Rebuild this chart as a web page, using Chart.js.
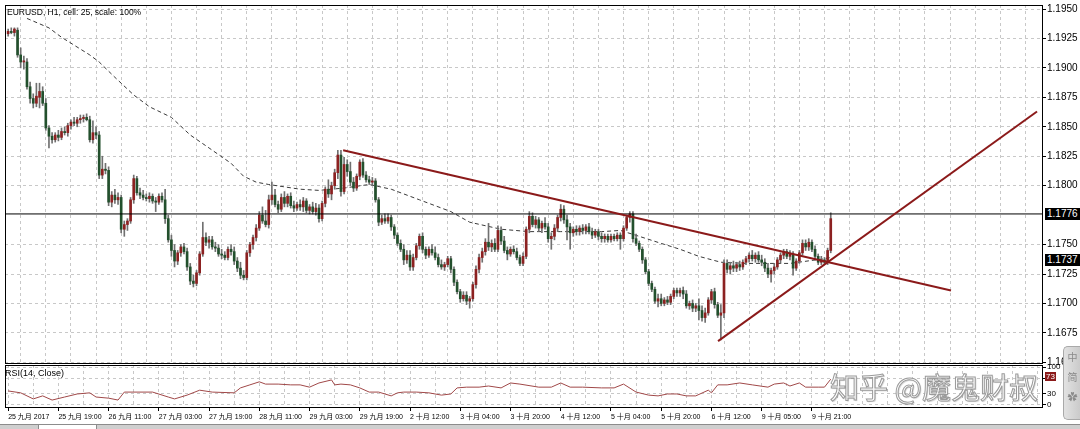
<!DOCTYPE html>
<html>
<head>
<meta charset="utf-8">
<script src="https://cdn.jsdelivr.net/npm/chart.js@4.4.1/dist/chart.umd.min.js"></script>
<style>
  html, body { margin: 0; padding: 0; background: #fff; }
  #wrap { position: relative; width: 1080px; height: 429px; overflow: hidden;
          font-family: "Liberation Sans", Arial, "Noto Sans CJK SC", sans-serif; }
  canvas { position: absolute; left: 0; }
  #main { top: 0; }
  #rsi { top: 363px; }
  #title { position: absolute; left: 7px; top: 7px; font-size: 8.5px; color: #000; white-space: nowrap; }
  #rsiTitle { position: absolute; left: 5px; top: 368px; font-size: 9px; color: #000; white-space: nowrap; }
  .mark { position: absolute; left: 1045px; height: 12px; line-height: 12px; padding: 0 2px;
          font-size: 10px; color: #fff; background: #000; }
  .rsimark { background: #8b1a1a; font-size: 8px; height: 9px; line-height: 9px; padding: 0 1px; }
  #water { position: absolute; left: 830px; top: 366px; font-size: 29px; line-height: 40px; white-space: nowrap;
           font-family: "Noto Sans CJK SC", sans-serif; color: rgba(255,255,255,0.9);
           -webkit-text-stroke: 1px #9a9a9a; text-shadow: 1px 1px 1px rgba(0,0,0,0.2); }
  #ime { position: absolute; left: 1063px; top: 346px; width: 17px; height: 72px; border-radius: 5px 0 0 5px;
         background: linear-gradient(90deg, #e2e2e2, #c9c9c9); border: 1px solid #a9a9a9; border-right: none;
         font-family: "Noto Sans CJK SC", sans-serif; font-size: 10px; color: #8a8a8a; text-align: center; }
  #ime div { height: 20px; line-height: 20px; }
  #strip { position: absolute; left: 0; top: 424px; width: 1080px; height: 5px; background: #cfcfcf; border-top: 1px solid #8c8c8c; }
  #tab { position: absolute; left: 38px; top: 424px; width: 57px; height: 5px; background: #fff; border: 1px solid #8c8c8c; border-bottom: none; }
</style>
</head>
<body>
<div id="wrap">
  <canvas id="main" width="1080" height="366"></canvas>
  <canvas id="rsi" width="1080" height="62"></canvas>
  <div id="title">EURUSD, H1, cell: 25, scale: 100%</div>
  <div id="rsiTitle">RSI(14, Close)</div>
  <div id="water">知乎 @魔鬼财叔</div>
  <div id="ime"><div>中</div><div>简</div><div>✿</div></div>
  <div id="strip"></div>
  <div id="tab"></div>
</div>
<script>
// EURUSD H1 candles: [open, high, low, close], one per hour from 25 Sep 2017
const ohlc = [
  [1.1929,1.1933,1.1927,1.1931],[1.1931,1.1934,1.1929,1.1930],[1.1930,1.1934,1.1927,1.1933],[1.1932,1.1934,1.1909,1.1911],
  [1.1911,1.1917,1.1900,1.1905],[1.1905,1.1910,1.1899,1.1906],[1.1905,1.1908,1.1882,1.1884],[1.1884,1.1888,1.1870,1.1874],
  [1.1874,1.1878,1.1866,1.1870],[1.1870,1.1887,1.1867,1.1876],[1.1875,1.1887,1.1866,1.1880],[1.1880,1.1884,1.1868,1.1870],
  [1.1870,1.1874,1.1847,1.1849],[1.1849,1.1851,1.1832,1.1842],[1.1842,1.1845,1.1836,1.1839],[1.1839,1.1845,1.1837,1.1843],
  [1.1843,1.1847,1.1838,1.1841],[1.1841,1.1849,1.1839,1.1846],[1.1846,1.1850,1.1843,1.1845],[1.1845,1.1853,1.1842,1.1851],
  [1.1851,1.1856,1.1848,1.1854],[1.1854,1.1858,1.1851,1.1853],[1.1853,1.1858,1.1850,1.1856],[1.1856,1.1860,1.1853,1.1857],
  [1.1857,1.1860,1.1854,1.1858],[1.1858,1.1861,1.1855,1.1856],[1.1856,1.1859,1.1837,1.1839],[1.1839,1.1855,1.1836,1.1845],
  [1.1845,1.1850,1.1840,1.1843],[1.1843,1.1846,1.1806,1.1809],[1.1809,1.1825,1.1806,1.1814],[1.1814,1.1819,1.1810,1.1813],
  [1.1813,1.1816,1.1783,1.1786],[1.1786,1.1795,1.1782,1.1792],[1.1792,1.1797,1.1785,1.1788],[1.1788,1.1794,1.1784,1.1790],
  [1.1790,1.1792,1.1760,1.1763],[1.1763,1.1770,1.1757,1.1767],[1.1767,1.1772,1.1762,1.1770],[1.1770,1.1790,1.1768,1.1788],
  [1.1788,1.1809,1.1785,1.1806],[1.1806,1.1808,1.1792,1.1794],[1.1794,1.1798,1.1789,1.1792],[1.1792,1.1796,1.1788,1.1790],
  [1.1790,1.1793,1.1787,1.1789],[1.1789,1.1794,1.1786,1.1791],[1.1791,1.1793,1.1785,1.1787],[1.1787,1.1790,1.1778,1.1786],
  [1.1786,1.1793,1.1784,1.1791],[1.1791,1.1794,1.1786,1.1788],[1.1788,1.1797,1.1768,1.1772],[1.1772,1.1775,1.1752,1.1754],
  [1.1754,1.1758,1.1740,1.1745],[1.1745,1.1750,1.1731,1.1736],[1.1736,1.1745,1.1733,1.1743],[1.1743,1.1750,1.1740,1.1748],
  [1.1748,1.1751,1.1742,1.1744],[1.1744,1.1747,1.1728,1.1731],[1.1731,1.1734,1.1716,1.1719],[1.1719,1.1724,1.1714,1.1717],
  [1.1717,1.1728,1.1715,1.1726],[1.1726,1.1744,1.1724,1.1742],[1.1742,1.1769,1.1740,1.1756],[1.1756,1.1760,1.1749,1.1752],
  [1.1752,1.1757,1.1747,1.1754],[1.1754,1.1757,1.1746,1.1748],[1.1748,1.1752,1.1744,1.1747],[1.1747,1.1750,1.1740,1.1742],
  [1.1742,1.1746,1.1738,1.1741],[1.1741,1.1744,1.1737,1.1739],[1.1739,1.1748,1.1737,1.1746],[1.1746,1.1750,1.1741,1.1744],
  [1.1744,1.1748,1.1733,1.1736],[1.1736,1.1739,1.1727,1.1730],[1.1730,1.1735,1.1721,1.1724],[1.1724,1.1728,1.1720,1.1722],
  [1.1722,1.1745,1.1720,1.1743],[1.1743,1.1752,1.1740,1.1750],[1.1750,1.1758,1.1746,1.1756],[1.1756,1.1767,1.1753,1.1764],
  [1.1764,1.1778,1.1762,1.1775],[1.1775,1.1782,1.1768,1.1770],[1.1770,1.1779,1.1765,1.1767],[1.1767,1.1792,1.1764,1.1788],
  [1.1788,1.1803,1.1784,1.1792],[1.1792,1.1797,1.1782,1.1784],[1.1784,1.1787,1.1777,1.1780],[1.1780,1.1793,1.1778,1.1790],
  [1.1790,1.1795,1.1782,1.1785],[1.1785,1.1793,1.1782,1.1791],[1.1791,1.1794,1.1781,1.1783],[1.1783,1.1787,1.1778,1.1781],
  [1.1781,1.1786,1.1779,1.1784],[1.1784,1.1788,1.1779,1.1782],[1.1782,1.1790,1.1778,1.1787],[1.1787,1.1789,1.1777,1.1779],
  [1.1779,1.1784,1.1776,1.1782],[1.1782,1.1786,1.1776,1.1778],[1.1778,1.1785,1.1775,1.1781],[1.1781,1.1784,1.1769,1.1772],
  [1.1772,1.1787,1.1770,1.1785],[1.1785,1.1799,1.1782,1.1797],[1.1797,1.1805,1.1790,1.1793],[1.1793,1.1803,1.1788,1.1800],
  [1.1800,1.1814,1.1797,1.1811],[1.1811,1.1830,1.1806,1.1826],[1.1826,1.1830,1.1791,1.1795],[1.1795,1.1824,1.1793,1.1818],
  [1.1818,1.1822,1.1808,1.1812],[1.1812,1.1820,1.1800,1.1803],[1.1803,1.1807,1.1795,1.1798],[1.1798,1.1810,1.1796,1.1808],
  [1.1808,1.1822,1.1805,1.1820],[1.1820,1.1823,1.1807,1.1809],[1.1809,1.1812,1.1803,1.1805],[1.1805,1.1808,1.1801,1.1803],
  [1.1803,1.1807,1.1800,1.1804],[1.1804,1.1806,1.1786,1.1788],[1.1788,1.1790,1.1766,1.1769],[1.1769,1.1775,1.1767,1.1772],
  [1.1772,1.1776,1.1768,1.1770],[1.1770,1.1776,1.1768,1.1773],[1.1773,1.1775,1.1762,1.1765],[1.1765,1.1767,1.1755,1.1758],
  [1.1758,1.1760,1.1749,1.1751],[1.1751,1.1754,1.1744,1.1746],[1.1746,1.1750,1.1733,1.1737],[1.1737,1.1745,1.1734,1.1741],
  [1.1741,1.1745,1.1728,1.1731],[1.1731,1.1742,1.1728,1.1739],[1.1739,1.1751,1.1737,1.1749],[1.1749,1.1759,1.1746,1.1757],
  [1.1757,1.1760,1.1743,1.1746],[1.1746,1.1748,1.1738,1.1741],[1.1741,1.1748,1.1739,1.1746],[1.1746,1.1750,1.1741,1.1743],
  [1.1743,1.1748,1.1737,1.1739],[1.1739,1.1742,1.1731,1.1733],[1.1733,1.1737,1.1729,1.1731],[1.1731,1.1735,1.1728,1.1733],
  [1.1733,1.1740,1.1731,1.1738],[1.1738,1.1740,1.1726,1.1729],[1.1729,1.1731,1.1715,1.1718],[1.1718,1.1720,1.1708,1.1710],
  [1.1710,1.1712,1.1701,1.1704],[1.1704,1.1710,1.1702,1.1707],[1.1707,1.1710,1.1699,1.1702],[1.1702,1.1706,1.1696,1.1704],
  [1.1704,1.1718,1.1702,1.1716],[1.1716,1.1732,1.1713,1.1729],[1.1729,1.1742,1.1726,1.1739],[1.1739,1.1747,1.1735,1.1744],
  [1.1744,1.1755,1.1741,1.1752],[1.1752,1.1768,1.1745,1.1748],[1.1748,1.1754,1.1744,1.1751],[1.1751,1.1755,1.1744,1.1746],
  [1.1746,1.1766,1.1744,1.1762],[1.1762,1.1765,1.1750,1.1753],[1.1753,1.1757,1.1743,1.1745],[1.1745,1.1748,1.1737,1.1742],
  [1.1742,1.1748,1.1740,1.1746],[1.1746,1.1749,1.1742,1.1744],[1.1744,1.1747,1.1737,1.1739],[1.1739,1.1741,1.1732,1.1734],
  [1.1734,1.1743,1.1732,1.1740],[1.1740,1.1765,1.1738,1.1763],[1.1763,1.1778,1.1760,1.1774],[1.1774,1.1777,1.1765,1.1767],
  [1.1767,1.1774,1.1764,1.1771],[1.1771,1.1773,1.1761,1.1764],[1.1764,1.1770,1.1760,1.1768],[1.1768,1.1773,1.1763,1.1765],
  [1.1765,1.1768,1.1752,1.1755],[1.1755,1.1760,1.1746,1.1757],[1.1757,1.1767,1.1754,1.1764],[1.1764,1.1775,1.1761,1.1773],
  [1.1773,1.1784,1.1770,1.1780],[1.1780,1.1783,1.1768,1.1771],[1.1771,1.1775,1.1754,1.1765],[1.1765,1.1768,1.1746,1.1760],
  [1.1760,1.1765,1.1757,1.1763],[1.1763,1.1766,1.1758,1.1761],[1.1761,1.1766,1.1758,1.1764],[1.1764,1.1767,1.1759,1.1762],
  [1.1762,1.1767,1.1759,1.1765],[1.1765,1.1768,1.1759,1.1761],[1.1761,1.1764,1.1755,1.1758],[1.1758,1.1763,1.1756,1.1761],
  [1.1761,1.1763,1.1754,1.1757],[1.1757,1.1760,1.1752,1.1755],[1.1755,1.1759,1.1752,1.1757],[1.1757,1.1759,1.1752,1.1754],
  [1.1754,1.1759,1.1752,1.1757],[1.1757,1.1759,1.1753,1.1755],[1.1755,1.1760,1.1753,1.1758],[1.1758,1.1760,1.1746,1.1755],
  [1.1755,1.1766,1.1753,1.1764],[1.1764,1.1775,1.1762,1.1773],[1.1773,1.1778,1.1769,1.1776],[1.1776,1.1778,1.1752,1.1755],
  [1.1755,1.1759,1.1749,1.1751],[1.1751,1.1753,1.1744,1.1746],[1.1746,1.1748,1.1734,1.1737],[1.1737,1.1739,1.1725,1.1727],
  [1.1727,1.1729,1.1715,1.1717],[1.1717,1.1719,1.1710,1.1712],[1.1712,1.1714,1.1700,1.1702],[1.1702,1.1708,1.1697,1.1704],
  [1.1704,1.1708,1.1698,1.1700],[1.1700,1.1705,1.1698,1.1703],[1.1703,1.1706,1.1699,1.1701],[1.1701,1.1708,1.1699,1.1706],
  [1.1706,1.1713,1.1704,1.1711],[1.1711,1.1713,1.1706,1.1709],[1.1709,1.1713,1.1706,1.1711],[1.1711,1.1714,1.1704,1.1708],
  [1.1708,1.1711,1.1696,1.1698],[1.1698,1.1702,1.1695,1.1700],[1.1700,1.1703,1.1693,1.1696],[1.1696,1.1700,1.1693,1.1698],
  [1.1698,1.1704,1.1686,1.1694],[1.1694,1.1698,1.1685,1.1688],[1.1688,1.1696,1.1684,1.1692],[1.1692,1.1705,1.1690,1.1703],
  [1.1703,1.1712,1.1700,1.1710],[1.1710,1.1713,1.1696,1.1699],[1.1699,1.1701,1.1688,1.1690],[1.1690,1.1699,1.1669,1.1692],
  [1.1692,1.1737,1.1688,1.1734],[1.1734,1.1737,1.1726,1.1729],[1.1729,1.1735,1.1725,1.1732],[1.1732,1.1736,1.1727,1.1730],
  [1.1730,1.1735,1.1727,1.1733],[1.1733,1.1736,1.1728,1.1731],[1.1731,1.1737,1.1729,1.1735],[1.1735,1.1740,1.1733,1.1738],
  [1.1738,1.1743,1.1735,1.1741],[1.1741,1.1745,1.1736,1.1738],[1.1738,1.1743,1.1735,1.1741],[1.1741,1.1744,1.1735,1.1737],
  [1.1737,1.1741,1.1732,1.1735],[1.1735,1.1738,1.1727,1.1730],[1.1730,1.1734,1.1722,1.1725],[1.1725,1.1730,1.1718,1.1728],
  [1.1728,1.1734,1.1725,1.1731],[1.1731,1.1739,1.1729,1.1737],[1.1737,1.1743,1.1734,1.1741],[1.1741,1.1746,1.1738,1.1744],
  [1.1744,1.1746,1.1738,1.1740],[1.1740,1.1745,1.1737,1.1742],[1.1742,1.1744,1.1724,1.1730],[1.1730,1.1738,1.1728,1.1736],
  [1.1736,1.1745,1.1734,1.1743],[1.1743,1.1754,1.1741,1.1751],[1.1751,1.1754,1.1745,1.1748],[1.1748,1.1755,1.1745,1.1752],
  [1.1752,1.1754,1.1744,1.1746],[1.1746,1.1749,1.1737,1.1740],[1.1740,1.1742,1.1733,1.1735],[1.1735,1.1740,1.1733,1.1737],
  [1.1737,1.1739,1.1733,1.1735],[1.1735,1.1747,1.1733,1.1745],[1.1745,1.1777,1.1743,1.1772]
];

// dashed moving average: [bar, price]
const maPoints = [
  [6,1.1942],[13,1.1934],[17,1.1926],[26,1.1911],[29,1.1905],[34,1.1892],[40,1.1877],[45,1.1867],
  [52,1.1858],[58,1.1843],[64,1.1832],[71,1.1819],[75,1.1808],[79,1.1803],[83,1.1801],[93,1.1797],
  [99,1.1796],[107,1.1798],[115,1.1801],[122,1.1797],[131,1.1788],[141,1.1778],[147,1.1769],[157,1.1763],
  [166,1.1761],[176,1.1761],[189,1.1761],[195,1.1762],[201,1.1757],[208,1.1751],[214,1.1746],[220,1.1740],
  [227,1.1735],[235,1.1734],[249,1.1734],[260,1.1738],[262,1.1739]
];

// RSI(14) line: [bar, value]
const rsiPoints = [
  [0,37],[4,32],[8,16],[11,24],[14,13],[18,21],[22,29],[26,32],[28,21],[32,18],[35,13],[37,34],
  [42,34],[46,34],[51,21],[53,16],[57,26],[61,39],[65,34],[72,32],[74,45],[77,53],[80,61],[82,55],
  [86,55],[90,53],[93,53],[96,47],[99,58],[103,66],[104,53],[106,55],[109,53],[112,45],[115,34],[118,34],
  [122,24],[124,32],[126,34],[130,34],[134,32],[138,26],[141,29],[143,45],[146,47],[150,47],[153,50],[157,45],
  [160,58],[163,55],[169,47],[173,47],[176,58],[179,47],[183,47],[189,45],[193,45],[196,55],[200,34],[204,26],
  [207,24],[210,29],[213,29],[216,24],[219,24],[223,39],[224,32],[226,53],[229,53],[233,58],[237,53],[242,47],
  [244,55],[247,58],[249,50],[252,58],[254,47],[258,47],[260,47],[262,68]
];
const rsiNow = 73;
const rsiTicks = [0, 30, 70, 100];

// drawn objects
const downTrend = [[106.7, 1.1830], [300.3, 1.1711]];
const upTrend = [[226.1, 1.1668], [327.7, 1.1863]];
const levelPrice = 1.1776;
const markedPrices = [1.1776, 1.1737];

const priceTicks = [1.1950,1.1925,1.1900,1.1875,1.1850,1.1825,1.1800,1.1750,1.1725,1.1700,1.1675,1.1650];
const timeLabels = ['25 九月 2017','25 九月 19:00','26 九月 11:00','27 九月 03:00','27 九月 19:00','28 九月 11:00',
  '29 九月 03:00','29 九月 19:00','2 十月 12:00','3 十月 04:00','3 十月 20:00','4 十月 12:00','5 十月 04:00',
  '5 十月 20:00','6 十月 12:00','9 十月 05:00','9 十月 21:00'];
const labelEvery = 16;
const gridEvery = 8;

const xMin = -1, xMax = 329.6;
const yMin = 1.16486, yMax = 1.19534;

const bullColor = '#8c2121';
const bearColor = '#23502d';
const wickColor = '#707070';
const trendColor = '#8b1a1a';
const gridColor = '#c8c8c8';

Chart.defaults.font.family = '"Liberation Sans", Arial, "Noto Sans CJK SC", sans-serif';
Chart.defaults.color = '#000';

const gridIdx = [];
for (let v = 0; v <= xMax; v += gridEvery) gridIdx.push(v);

const noPad = s => { s.paddingLeft = 0; s.paddingRight = 0; s.paddingTop = 0; s.paddingBottom = 0; };

const framePlugin = {
  id: 'frame',
  afterDraw(chart) {
    const { ctx, chartArea: a } = chart;
    ctx.save();
    ctx.strokeStyle = '#000';
    ctx.lineWidth = 1;
    ctx.strokeRect(Math.round(a.left) + 0.5, Math.round(a.top) + 0.5, Math.round(a.width) - 1, Math.round(a.height) - 1);
    ctx.restore();
  }
};

const bodies = ohlc.map((c, i) => ({ x: i, y: [c[0], c[3]] }));
const wicks = ohlc.map((c, i) => ({ x: i, y: [c[2], c[1]] }));
const candleColor = ctx => {
  const c = ohlc[ctx.dataIndex];
  return c && c[3] >= c[0] ? bullColor : bearColor;
};

const mainChart = new Chart(document.getElementById('main'), {
  type: 'bar',
  data: {
    datasets: [
      { type: 'line', data: downTrend.map(p => ({ x: p[0], y: p[1] })), borderColor: trendColor, borderWidth: 2, pointRadius: 0, order: 0 },
      { type: 'line', data: upTrend.map(p => ({ x: p[0], y: p[1] })), borderColor: trendColor, borderWidth: 2, pointRadius: 0, order: 0 },
      { type: 'line', data: [{ x: xMin, y: levelPrice }, { x: xMax, y: levelPrice }], borderColor: '#000', borderWidth: 1, pointRadius: 0, order: 1 },
      { type: 'bar', data: bodies, backgroundColor: candleColor, barThickness: 2, minBarLength: 1, grouped: false, order: 2 },
      { type: 'bar', data: wicks, backgroundColor: wickColor, barThickness: 1, grouped: false, order: 3 },
      { type: 'line', data: maPoints.map(p => ({ x: p[0], y: p[1] })), borderColor: '#3a3a3a', borderWidth: 1, borderDash: [4, 3], pointRadius: 0, order: 4 }
    ]
  },
  options: {
    responsive: false,
    animation: false,
    devicePixelRatio: 1,
    events: [],
    layout: { padding: { left: 5, top: 5, right: 0, bottom: 0 } },
    plugins: { legend: { display: false }, tooltip: { enabled: false } },
    scales: {
      x: {
        type: 'linear', min: xMin, max: xMax, offset: false,
        grid: { color: gridColor, drawTicks: false },
        border: { display: false, dash: [3, 3] },
        ticks: { display: false },
        afterBuildTicks: s => { s.ticks = gridIdx.map(v => ({ value: v })); },
        afterFit: s => { s.height = 2; noPad(s); }
      },
      y: {
        position: 'right', min: yMin, max: yMax,
        grid: { color: gridColor, tickColor: '#000', tickLength: 3, tickBorderDash: [] },
        border: { display: false, dash: [3, 3] },
        ticks: { font: { size: 10 }, padding: 1, crossAlign: 'near', autoSkip: false, callback: v => v.toFixed(4) },
        afterBuildTicks: s => { s.ticks = priceTicks.map(v => ({ value: v })); },
        afterFit: s => { s.width = 37; noPad(s); }
      }
    }
  },
  plugins: [framePlugin]
});

const rsiChart = new Chart(document.getElementById('rsi'), {
  type: 'line',
  data: {
    datasets: [
      { data: rsiPoints.map(p => ({ x: p[0], y: p[1] })), borderColor: '#a04848', borderWidth: 1, pointRadius: 0 }
    ]
  },
  options: {
    responsive: false,
    animation: false,
    devicePixelRatio: 1,
    events: [],
    layout: { padding: { left: 5, top: 2, right: 0, bottom: 0 } },
    plugins: { legend: { display: false }, tooltip: { enabled: false } },
    scales: {
      x: {
        type: 'linear', min: xMin, max: xMax, offset: false,
        grid: {
          color: gridColor, tickLength: 3, tickBorderDash: [],
          tickColor: c => (c.tick && c.tick.value % labelEvery === 0 && timeLabels[c.tick.value / labelEvery]) ? '#000' : 'rgba(0,0,0,0)'
        },
        border: { display: false, dash: [3, 3] },
        ticks: {
          font: { size: 7 }, align: 'start', autoSkip: false, maxRotation: 0, padding: 2,
          callback: v => (v % labelEvery === 0 ? (timeLabels[v / labelEvery] || '') : '')
        },
        afterBuildTicks: s => { s.ticks = gridIdx.map(v => ({ value: v })); },
        afterFit: s => { s.height = 17; noPad(s); }
      },
      y: {
        position: 'right', min: -7.9, max: 105.3,
        grid: { color: gridColor, tickColor: '#000', tickLength: 3, tickBorderDash: [] },
        border: { display: false, dash: [3, 3] },
        ticks: { font: { size: 8 }, padding: 1, autoSkip: false, callback: v => String(v) },
        afterBuildTicks: s => { s.ticks = rsiTicks.map(v => ({ value: v })); },
        afterFit: s => { s.width = 37; noPad(s); }
      }
    }
  },
  plugins: [framePlugin]
});

// highlighted price labels on the right axis
const wrap = document.getElementById('wrap');
markedPrices.forEach(p => {
  const d = document.createElement('div');
  d.className = 'mark';
  d.textContent = p.toFixed(4);
  d.style.top = (mainChart.scales.y.getPixelForValue(p) - 6) + 'px';
  wrap.appendChild(d);
});
const r = document.createElement('div');
r.className = 'mark rsimark';
r.textContent = String(rsiNow);
r.style.top = (363 + rsiChart.scales.y.getPixelForValue(rsiNow) - 5) + 'px';
wrap.insertBefore(r, document.getElementById('ime'));
</script>
</body>
</html>
